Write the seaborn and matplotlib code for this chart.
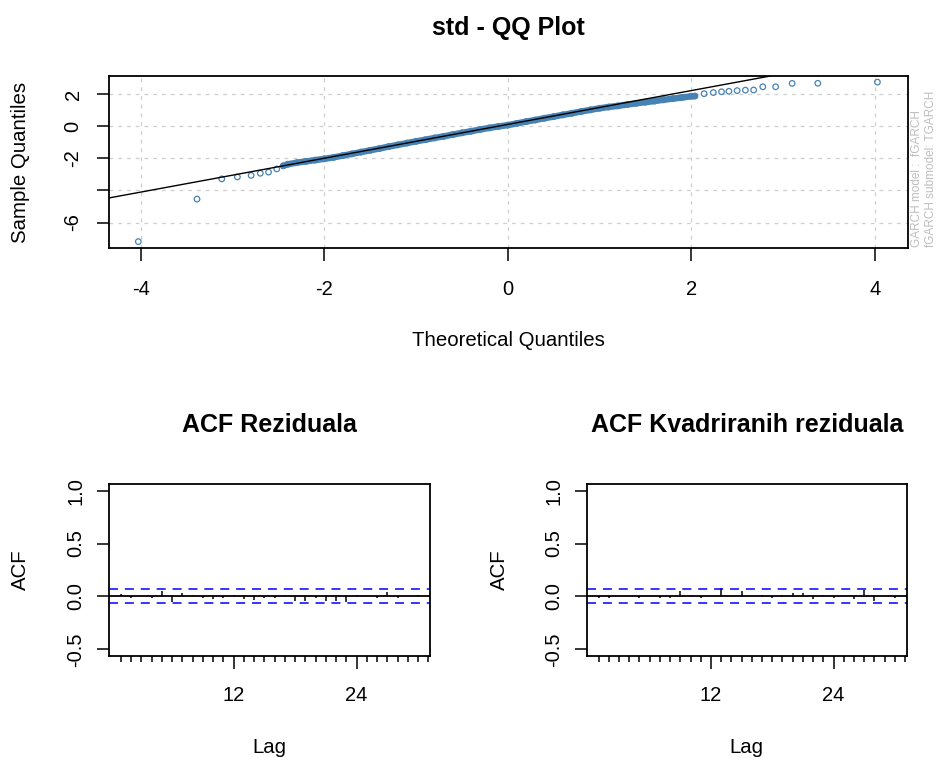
#-------------------------------------
# QQ plot of standardized residuals
# plus ACF of residuals / squared
# residuals (rugarch-style panel)
#-------------------------------------

#%%
import pandas as pd
import numpy as np
import matplotlib
matplotlib.use("Agg")
import matplotlib.pyplot as plt
import seaborn as sns

sns.set_theme(style="white")
plt.rcParams['font.family'] = ['Liberation Sans', 'DejaVu Sans']
plt.rcParams['text.color'] = 'black'
plt.rcParams['axes.labelcolor'] = 'black'
plt.rcParams['xtick.color'] = 'black'
plt.rcParams['ytick.color'] = 'black'

#%%

# QQ data: dense middle part of the cloud

band_theo = [-2.45, -2.4, -2.3, -2.2, -2.1, -2.0, -1.9, -1.8, -1.7, -1.6, -1.5,
             -1.4, -1.3, -1.2, -1.1, -1.0, -0.9, -0.8, -0.7, -0.6, -0.5, -0.4,
             -0.3, -0.2, -0.1, 0.0, 0.1, 0.2, 0.3, 0.4, 0.5, 0.6, 0.7, 0.8, 0.9,
             1.0, 1.1, 1.2, 1.3, 1.4, 1.5, 1.6, 1.7, 1.8, 1.9, 2.0, 2.04]
band_samp = [-2.47, -2.37, -2.27, -2.19, -2.11, -2.03, -1.94, -1.83, -1.72, -1.61, -1.50,
             -1.39, -1.27, -1.16, -1.05, -0.94, -0.84, -0.73, -0.63, -0.52, -0.41, -0.31,
             -0.20, -0.10, -0.01, 0.07, 0.18, 0.29, 0.39, 0.50, 0.60, 0.71, 0.81, 0.92, 1.02,
             1.12, 1.20, 1.27, 1.35, 1.43, 1.50, 1.57, 1.65, 1.72, 1.79, 1.87, 1.88]

# QQ data: the separate points in both tails

tail_theo = [-4.03, -3.39, -3.12, -2.95, -2.80, -2.70, -2.61, -2.52,
             2.14, 2.24, 2.33, 2.41, 2.50, 2.59, 2.68, 2.78, 2.92, 3.10, 3.38, 4.03]
tail_samp = [-7.19, -4.54, -3.28, -3.16, -3.06, -2.93, -2.86, -2.66,
             2.03, 2.10, 2.15, 2.18, 2.22, 2.25, 2.26, 2.46, 2.46, 2.67, 2.68, 2.75]

# reference line (qqline)

qq_intercept = 0.115
qq_slope = 1.054

# ACF values

lags = list(range(1, 31))
acf_resid = [0.02, -0.015, 0.004, -0.015, 0.054, -0.05, 0.028, 0.015, -0.012, -0.025,
             -0.015, 0.015, -0.025, -0.03, -0.012, -0.012, 0.012, -0.045, -0.04, -0.015,
             -0.045, -0.04, -0.05, 0.015, 0.003, -0.015, 0.045, -0.015, 0.003, 0.015]
acf_sq = [-0.012, -0.012, 0.003, 0.003, -0.012, 0.003, -0.012, -0.012, 0.055, 0.015,
          -0.015, 0.003, 0.08, 0.003, 0.055, 0.003, 0.012, -0.012, 0.015, 0.035,
          0.03, -0.025, 0.012, -0.015, 0.003, -0.025, 0.062, -0.042, 0.003, -0.015]
conf_lim = 0.066

#%%

fig = plt.figure(figsize=(9.46, 7.58), dpi=100)
ax_qq = fig.add_axes([0.1152, 0.6728, 0.8443, 0.2269])
ax_a1 = fig.add_axes([0.1152, 0.1350, 0.3393, 0.2261])
ax_a2 = fig.add_axes([0.6202, 0.1350, 0.3383, 0.2261])

lab_size = 14.7
tick_size = 14.5
title_size = 18

def box(ax):
    for s in ax.spines.values():
        s.set_visible(True)
        s.set_color('black')
        s.set_linewidth(1.3)

# QQ plot

qq = pd.DataFrame({'theo': band_theo + tail_theo, 'samp': band_samp + tail_samp})
sns.lineplot(x=band_theo, y=band_samp, ax=ax_qq, color='steelblue', lw=4.6,
             sort=False, zorder=2)
sns.scatterplot(data=qq, x='theo', y='samp', ax=ax_qq, marker='o', s=16,
                facecolor='none', edgecolor='steelblue', linewidth=0.9, zorder=3)
ax_qq.axline((0, qq_intercept), slope=qq_slope, color='black', lw=1.0, zorder=4)

ax_qq.set_xlim(-4.35, 4.36)
ax_qq.set_ylim(-7.59, 3.13)
ax_qq.set_xticks([-4, -2, 0, 2, 4])
ax_qq.set_xticklabels(['-4', '-2', '0', '2', '4'])
ax_qq.set_yticks([2, 0, -2, -4, -6])
ax_qq.set_yticklabels(['2', '0', '-2', '', '-6'], rotation=90, va='center')
ax_qq.grid(True, color='#CFCFCF', linestyle=(0, (3, 4)), lw=0.9)
ax_qq.set_axisbelow(True)
box(ax_qq)
ax_qq.tick_params(axis='both', which='major', direction='out', length=9, width=1.1,
                  color='black', labelsize=tick_size, bottom=True, left=True)
ax_qq.tick_params(axis='x', pad=14)
ax_qq.tick_params(axis='y', pad=10)
ax_qq.set_xlabel('Theoretical Quantiles', fontsize=lab_size)
ax_qq.xaxis.set_label_coords(0.5, -0.535)
ax_qq.xaxis.label.set_va('center')
ax_qq.set_ylabel('Sample Quantiles', fontsize=lab_size)
ax_qq.yaxis.set_label_coords(-0.1114, 0.5)
ax_qq.yaxis.label.set_va('center')
ax_qq.set_title('std - QQ Plot', fontsize=title_size, fontweight='bold', y=1.279,
                va='center', pad=0)

fig.text(917 / 946, 1 - 247 / 758, 'GARCH model :  fGARCH', rotation=90, color='#BEBEBE',
         fontsize=8.5, ha='center', va='bottom')
fig.text(931 / 946, 1 - 247 / 758, 'fGARCH submodel: TGARCH', rotation=90, color='#BEBEBE',
         fontsize=8.5, ha='center', va='bottom')

# ACF plots

for ax, vals, title, lx in [(ax_a1, acf_resid, 'ACF Reziduala', -0.2757),
                            (ax_a2, acf_sq, 'ACF Kvadriranih reziduala', -0.274)]:
    ax.vlines(lags, 0, vals, color='black', lw=1.1)
    ax.axhline(0, color='black', lw=1.3)
    ax.axhline(conf_lim, color='#0000FF', ls=(0, (5.9, 4.5)), lw=1.1)
    ax.axhline(-conf_lim, color='#0000FF', ls=(0, (5.9, 4.5)), lw=1.1)
    ax.set_xlim(-0.16, 31.16)
    ax.set_ylim(-0.56, 1.06)
    ax.set_xticks([12, 24])
    ax.set_xticklabels(['12', '24'])
    ax.set_xticks(range(1, 32), minor=True)
    ax.set_yticks([-0.5, 0.0, 0.5, 1.0])
    ax.set_yticklabels(['-0.5', '0.0', '0.5', '1.0'], rotation=90, va='center')
    box(ax)
    ax.tick_params(axis='both', which='major', direction='out', length=9, width=1.1,
                   color='black', labelsize=tick_size, bottom=True, left=True)
    ax.tick_params(axis='x', which='minor', direction='out', length=4.5, width=1.1,
                   color='black', bottom=True)
    ax.tick_params(axis='x', pad=13)
    ax.tick_params(axis='y', pad=8)
    ax.set_xlabel('Lag', fontsize=lab_size)
    ax.xaxis.set_label_coords(0.5, -0.5385)
    ax.xaxis.label.set_va('center')
    ax.set_ylabel('ACF', fontsize=lab_size)
    ax.yaxis.set_label_coords(lx, 0.5)
    ax.yaxis.label.set_va('center')
    ax.set_title(title, fontsize=title_size, fontweight='bold', y=1.346, va='center', pad=0)

plt.savefig('out.png', dpi=100)
